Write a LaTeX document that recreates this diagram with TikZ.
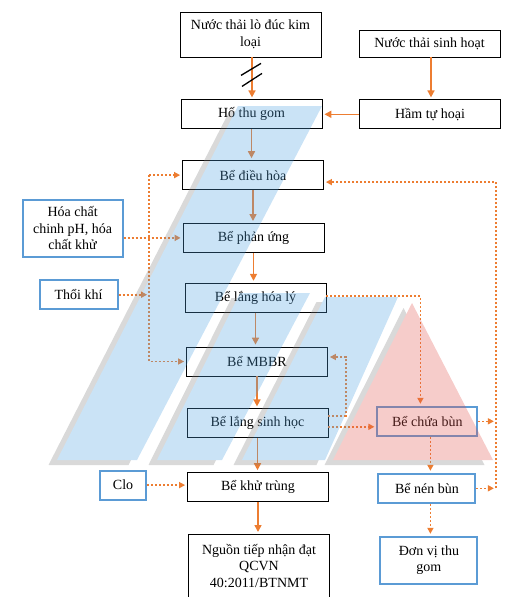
\documentclass[tikz,border=0pt]{standalone}
\usepackage{fontspec}
\setmainfont{Liberation Serif}
\usetikzlibrary{arrows.meta,positioning}
\definecolor{flowc}{HTML}{ED7D31}
\definecolor{sidec}{HTML}{5B9BD5}
\definecolor{bandc}{RGB}{79,162,225}
\definecolor{sludgec}{RGB}{225,85,78}
\tikzset{
  box/.style={draw=black, line width=0.8pt, minimum width=141pt, minimum height=29pt, inner sep=0pt, align=center},
  sidebox/.style={draw=sidec, line width=2pt, minimum height=29pt, inner sep=0pt, align=center},
  flow/.style={draw=flowc, line width=1.6pt, -{Triangle[length=7pt,width=7pt]}, shorten >=2pt},
  dotflow/.style={draw=flowc, line width=1.6pt, dash pattern=on 2pt off 2pt, -{Triangle[length=6pt,width=6pt]}, shorten >=2pt},
  slash/.style={draw=black, line width=1.3pt},
}
\begin{document}
\begin{tikzpicture}[x=1pt, y=-1pt, font=\fontsize{14pt}{16.5pt}\selectfont]
\useasboundingbox (0,0) rectangle (524,597);

% main line
\node (nt1) [box, minimum height=45pt] at (250.5,34.5) {Nước thải lò đúc kim\\loại};
\node (ho) [box, below=42pt of nt1, xshift=1pt] {Hố thu gom};
\node (dh) [box, below=31pt of ho, xshift=1.5pt] {Bể điều hòa};
\node (pu) [box, below=33pt of dh, xshift=0.5pt] {Bể phản ứng};
\node (lhl) [box, below=30pt of pu, xshift=2pt] {Bể lắng hóa lý};
\node (mbbr) [box, below=34pt of lhl, xshift=1.5pt] {Bể MBBR};
\node (lsh) [box, below=32pt of mbbr, xshift=0.5pt] {Bể lắng sinh học};
\node (kt) [box, below=34pt of lsh, xshift=0.5pt] {Bể khử trùng};
\node (ntn) [box, below=32pt of kt, xshift=1pt, minimum height=63pt] {Nguồn tiếp nhận đạt\\QCVN\\40:2011/BTNMT};

\node (nt2) [box, minimum height=27pt] at (429.5,43.5) {Nước thải sinh hoạt};
\node (ham) [box, below=42pt of nt2, xshift=0.5pt] {Hầm tự hoại};

% chemicals, air
\node (hc) [sidebox, minimum width=100pt, minimum height=57pt, left=59pt of pu, yshift=9.5pt] {Hóa chất\\chinh pH, hóa\\chất khử};
\node (tk) [sidebox, minimum width=78pt, left=66pt of lhl, yshift=3pt] {Thổi khí};
\node (clo) [sidebox, minimum width=46pt, left=40pt of kt, yshift=2pt] {Clo};

% sludge
\node (cb) [sidebox, minimum width=100pt, right=48pt of lsh, yshift=2pt] {Bể chứa bùn};
\node (nb) [sidebox, minimum width=97pt, below=36pt of cb, xshift=-0.5pt] {Bể nén bùn};
\node (dv) [sidebox, minimum width=97pt, minimum height=47pt, below=32pt of nb, xshift=2pt] {Đơn vị thu\\gom};

\coordinate (lc) at ([xshift=-33pt]dh.west);
\coordinate (rc) at ([xshift=172pt,yshift=-7pt]dh.east);

\draw [flow] ([xshift=1.5pt]nt1.south) -- ([xshift=1.5pt]nt1.south |- ho.north);
\draw [slash] ([xshift=-9.5pt,yshift=-18pt]nt1.south) -- ++(20pt,12pt);
\draw [slash] ([xshift=-8.5pt,yshift=-29pt]nt1.south) -- ++(20pt,13pt);
\draw [flow] ([xshift=1.5pt]nt2.south) -- ([xshift=1.5pt]nt2.south |- ham.north);
\draw [flow] (ham.west) -- (ham.west -| ho.east);
\foreach \a/\b in {ho/dh,dh/pu,pu/lhl,lhl/mbbr,mbbr/lsh,lsh/kt,kt/ntn}
  \draw [flow] (\a.south) -- (\a.south |- \b.north);

\draw [dotflow] (lc) -- (dh.west);
\draw [dotflow] (lc) -- (lc |- mbbr.west) -- (mbbr.west);
\draw [dotflow] (tk.east) -- (tk.east -| lc);
\draw [dotflow] (hc.east |- pu.west) -- (pu.west);
\draw [dotflow] (clo.east) -- (clo.east -| kt.west);

\draw [dotflow] ([yshift=1.5pt]lhl.east) -| ([xshift=-7pt]cb.north);
\draw [dotflow] ([yshift=7.5pt]lsh.east) -| ([xshift=18pt,yshift=4.5pt]mbbr.east) -- ([yshift=4.5pt]mbbr.east);
\draw [dotflow] ([yshift=-3.5pt]lsh.east) -- ([yshift=-3.5pt]lsh.east -| cb.west);
\draw [dotflow] ([xshift=3pt]cb.south) -- ([xshift=3pt]cb.south |- nb.north);
\draw [dotflow] ([xshift=3.5pt]nb.south) -- ([xshift=3.5pt]nb.south |- dv.north);
\draw [dotflow] (rc |- nb.east) -- (rc) -- (rc -| dh.east);
\draw [dotflow] (cb.east) -- (cb.east -| rc);
\draw [dotflow] (nb.east) -- (nb.east -| rc);

% see-through bands on top
\begin{scope}[transparency group, opacity=0.3]
\foreach \p in {{(238,106) -- (322,106) -- (137,460) -- (57,460)},
                {(240,293) -- (310,293) -- (222,460) -- (157,460)},
                {(325,297) -- (398,297) -- (325,460) -- (242,460)},
                {(412,303) -- (493,460) -- (333,460)}}
  \fill [gray, shift={(-8.5,5)}] \p -- cycle;
\fill [bandc] (238,106) -- (322,106) -- (137,460) -- (57,460) -- cycle;
\fill [bandc] (240,293) -- (310,293) -- (222,460) -- (157,460) -- cycle;
\fill [bandc] (325,297) -- (398,297) -- (325,460) -- (242,460) -- cycle;
\fill [sludgec] (412,303) -- (493,460) -- (333,460) -- cycle;
\end{scope}
\end{tikzpicture}
\end{document}
